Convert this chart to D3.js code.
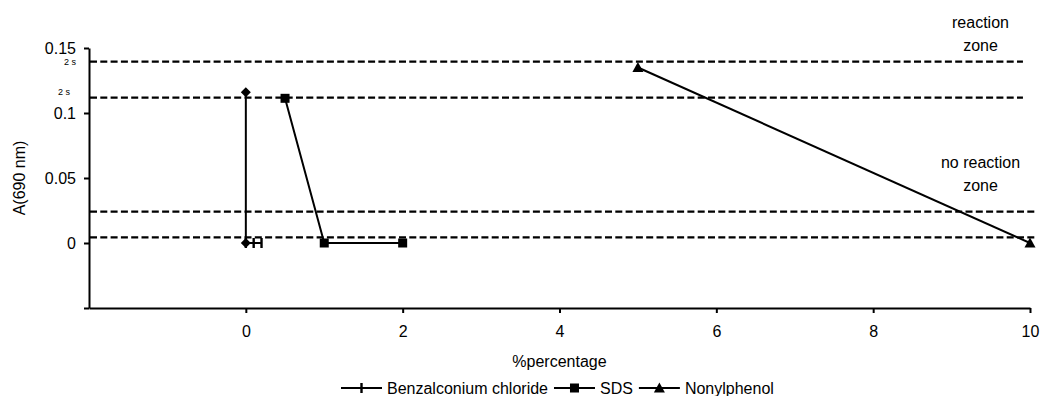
<!DOCTYPE html>
<html>
<head>
<meta charset="utf-8">
<script src="https://cdn.jsdelivr.net/npm/d3@7"></script>
<style>
  html, body { margin: 0; padding: 0; background: #fff; }
  svg { display: block; font-family: "Liberation Sans", Arial, sans-serif; }
</style>
</head>
<body>
<svg id="chart" width="1042" height="396"></svg>
<script>
// ---- data ----
const xTicks = [0, 2, 4, 6, 8, 10];
const yTicks = [-0.05, 0, 0.05, 0.1, 0.15];
const yLabelled = [0, 0.05, 0.1, 0.15];
const seriesNames = ["Benzalconium chloride", "SDS", "Nonylphenol"];
const benzX = [0, 0.1, 0.2];
const benzY = [0, 0, 0];
const sdsX = [0.5, 1, 2];
const sdsY = [0.1113, 0, 0];
const nonylX = [5, 10];
const nonylY = [0.135, 0];
const diamondX = [0, 0];
const diamondY = [0.1159, 0];
const refLevels = [0.1395, 0.1118, 0.0241, 0.0044];
const refEnds = [9.91, 9.91, 10.07, 10.07];
const zoneLabels = [["reaction", "zone"], ["no reaction", "zone"]];
const sLabel = "2 s";

// ---- layout ----
const svg = d3.select("#chart");
const x = d3.scaleLinear().domain([-2, 10]).range([89, 1030]);
const y = d3.scaleLinear().domain([-0.05, 0.15]).range([308, 48]);
const FS = 16;

// reference dashed lines
refLevels.forEach((v, i) => {
  svg.append("line")
    .attr("x1", x(-2) + 1).attr("x2", x(refEnds[i]))
    .attr("y1", y(v)).attr("y2", y(v))
    .attr("stroke", "#000").attr("stroke-width", 2.2)
    .attr("stroke-dasharray", "7,3.3");
});

// axes
const yAxis = d3.axisLeft(y).tickValues(yTicks).tickSize(5).tickSizeOuter(0)
  .tickPadding(8)
  .tickFormat(d => yLabelled.some(v => Math.abs(v - d) < 1e-9) ? d3.format("~g")(d) : "");
const gy = svg.append("g").attr("transform", `translate(${x(-2)},0)`).call(yAxis);
gy.selectAll("text").style("font-size", FS + "px").attr("fill", "#000");
gy.selectAll("path, line").attr("stroke", "#000").attr("stroke-width", 2);

const xAxis = d3.axisBottom(x).tickValues(xTicks).tickSize(5).tickSizeOuter(0)
  .tickFormat(d3.format("d"));
const gx = svg.append("g").attr("transform", `translate(0,${y(-0.05)})`).call(xAxis);
gx.selectAll("text").style("font-size", FS + "px").attr("fill", "#000")
  .attr("dy", null).attr("y", 29);
gx.selectAll("path, line").attr("stroke", "#000").attr("stroke-width", 2);

// axis titles
svg.append("text")
  .attr("transform", `translate(25,${y(0.05)}) rotate(-90)`)
  .attr("text-anchor", "middle").style("font-size", FS + "px")
  .text("A(690 nm)");
svg.append("text")
  .attr("x", x(4)).attr("y", 367)
  .attr("text-anchor", "middle").style("font-size", FS + "px")
  .text("%percentage");

// "2 s" labels
svg.append("text").attr("x", 76).attr("y", 65).attr("text-anchor", "end")
  .style("font-size", "9px").text(sLabel);
svg.append("text").attr("x", 70).attr("y", 95).attr("text-anchor", "end")
  .style("font-size", "9px").text(sLabel);

// zone labels
const zoneBase = [27.5, 167.5];
zoneLabels.forEach((lines, i) => {
  lines.forEach((t, j) => {
    svg.append("text").attr("x", 980.5).attr("y", zoneBase[i] + j * 23)
      .attr("text-anchor", "middle").style("font-size", FS + "px").text(t);
  });
});

// series
const line = d3.line().x(d => x(d[0])).y(d => y(d[1]));
function drawSeries(xs, ys, marker) {
  const pts = xs.map((v, i) => [v, ys[i]]);
  svg.append("path").datum(pts).attr("d", line)
    .attr("fill", "none").attr("stroke", "#000").attr("stroke-width", 2);
  pts.forEach(p => marker(svg, x(p[0]), y(p[1])));
}
const markers = {
  tick: (g, cx, cy) => g.append("rect").attr("x", cx - 1.2).attr("y", cy - 5)
    .attr("width", 2.4).attr("height", 10).attr("fill", "#000"),
  square: (g, cx, cy) => g.append("rect").attr("x", cx - 4.5).attr("y", cy - 4.5)
    .attr("width", 9).attr("height", 9).attr("fill", "#000"),
  triangle: (g, cx, cy) => g.append("path")
    .attr("d", `M${cx},${cy - 5.5}L${cx + 5.5},${cy + 4.5}L${cx - 5.5},${cy + 4.5}Z`)
    .attr("fill", "#000"),
  diamond: (g, cx, cy) => g.append("path")
    .attr("d", `M${cx},${cy - 5}L${cx + 5},${cy}L${cx},${cy + 5}L${cx - 5},${cy}Z`)
    .attr("fill", "#000")
};
drawSeries(benzX, benzY, markers.tick);
drawSeries(diamondX, diamondY, markers.diamond);
drawSeries(sdsX, sdsY, markers.square);
drawSeries(nonylX, nonylY, markers.triangle);

// legend
const legMarkers = [markers.tick, markers.square, markers.triangle];
let lx = 341;
const ly = 388;
seriesNames.forEach((name, i) => {
  svg.append("line").attr("x1", lx).attr("x2", lx + 41).attr("y1", ly).attr("y2", ly)
    .attr("stroke", "#000").attr("stroke-width", 2);
  legMarkers[i](svg, lx + 20.5, ly);
  const t = svg.append("text").attr("x", lx + 46).attr("y", ly + 6)
    .style("font-size", FS + "px").text(name);
  lx = lx + 46 + t.node().getComputedTextLength() + 6;
});
</script>
</body>
</html>
